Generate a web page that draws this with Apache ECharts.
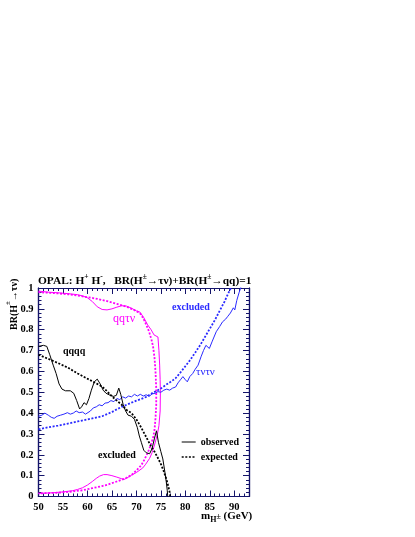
<!DOCTYPE html>
<html><head><meta charset="utf-8">
<script src="https://cdn.jsdelivr.net/npm/echarts/dist/echarts.min.js"></script>
<style>html,body{margin:0;padding:0;background:#fff}#c{width:415px;height:537px}</style>
</head><body><div id="c"></div>
<script>
// ---- data (m_H [GeV], BR(H->tau nu)) ----
const xTickLabels = ['50','55','60','65','70','75','80','85','90'];
const yTickLabels = ['0','0.1','0.2','0.3','0.4','0.5','0.6','0.7','0.8','0.9','1'];

const qqtnObserved = [[50,0.985],[52,0.98],[54,0.977],[56,0.973],[58,0.968],[59,0.962],[60,0.953],[61,0.935],[62,0.91],[63,0.897],[64,0.895],[65,0.9],[66,0.908],[67,0.915],[68,0.913],[69,0.903],[70,0.89],[70.7,0.885],[71.5,0.858],[72.3,0.823],[73,0.8],[73.6,0.775],[74,0.772],[74.4,0.765],[74.6,0.7],[74.75,0.63],[74.85,0.56],[74.9,0.5],[74.85,0.41],[74.6,0.34],[74.3,0.3],[73.7,0.247],[73.2,0.21],[72.7,0.183],[71.9,0.155],[71.3,0.137],[70,0.115],[69,0.102],[68,0.088],[67.5,0.082],[67,0.085],[66,0.093],[65,0.1],[64,0.105],[63.3,0.105],[62.5,0.098],[61.8,0.087],[61,0.072],[60,0.055],[59,0.042],[58,0.034],[57,0.028],[55,0.022],[53,0.018],[50,0.015]];
const qqtnExpected = [[50,0.98],[53,0.976],[56,0.97],[59,0.96],[62,0.948],[64,0.937],[66,0.924],[68,0.91],[69.5,0.895],[70.7,0.88],[71.4,0.855],[72,0.825],[72.6,0.79],[73.1,0.75],[73.4,0.72],[73.7,0.665],[73.9,0.6],[74.05,0.52],[74.05,0.44],[73.9,0.375],[73.7,0.32],[73.4,0.28],[72.9,0.245],[72.4,0.215],[71.7,0.18],[71,0.15],[70,0.125],[69,0.103],[68,0.09],[67,0.08],[66,0.072],[65,0.064],[64,0.056],[63,0.05],[61,0.04],[59,0.03],[57,0.024],[54,0.018],[50,0.015]];
const qqqqObserved = [[50,0.72],[51,0.725],[51.7,0.72],[52.3,0.68],[53,0.63],[53.6,0.59],[54.2,0.54],[54.8,0.515],[55.5,0.507],[56.5,0.507],[57.2,0.495],[57.8,0.46],[58.4,0.42],[58.8,0.43],[59.3,0.45],[59.8,0.44],[60.3,0.47],[60.8,0.51],[61.4,0.55],[62,0.563],[62.6,0.54],[63.2,0.51],[63.8,0.495],[64.5,0.487],[65.3,0.48],[65.9,0.485],[66.4,0.52],[66.8,0.49],[67.3,0.44],[67.8,0.41],[68.3,0.39],[69,0.385],[69.6,0.37],[70.2,0.33],[70.6,0.29],[71,0.26],[71.5,0.222],[72,0.21],[72.7,0.205],[73.2,0.23],[73.7,0.28],[74.1,0.315],[74.5,0.26],[75,0.215],[75.4,0.18],[75.8,0.12],[76.1,0.07],[76.3,0.03],[76.4,0]];
const qqqqExpected = [[50,0.68],[52,0.66],[54,0.64],[56,0.618],[58,0.59],[60,0.565],[62,0.54],[63,0.527],[64,0.505],[65,0.48],[66,0.46],[67,0.44],[68,0.415],[69,0.4],[70,0.37],[71,0.33],[72,0.285],[73,0.24],[73.7,0.215],[74.5,0.18],[75.1,0.15],[75.6,0.12],[76.1,0.085],[76.5,0.05],[76.8,0.02],[76.9,0]];
const tntnObserved = [[50,0.385],[50.7,0.39],[51.3,0.4],[52,0.39],[52.6,0.38],[53.2,0.375],[53.8,0.385],[54.5,0.39],[55.2,0.395],[55.9,0.402],[56.5,0.395],[57.1,0.4],[57.7,0.41],[58.3,0.402],[59,0.405],[59.6,0.395],[60,0.39],[60.6,0.41],[61.2,0.425],[61.8,0.43],[62.4,0.44],[63,0.435],[63.6,0.448],[64.2,0.45],[64.8,0.46],[65.4,0.455],[66,0.47],[66.6,0.465],[67.2,0.478],[67.8,0.472],[68.4,0.482],[69,0.478],[69.6,0.49],[70.2,0.482],[70.8,0.49],[71.4,0.482],[72,0.488],[72.6,0.48],[73.2,0.492],[73.8,0.495],[74.4,0.503],[75,0.5],[75.6,0.51],[76.2,0.515],[76.8,0.51],[77.4,0.52],[78,0.525],[78.5,0.545],[79,0.56],[79.5,0.575],[80,0.56],[80.4,0.55],[80.9,0.575],[81.5,0.59],[82,0.61],[82.6,0.63],[83.2,0.67],[83.7,0.7],[84.2,0.725],[84.9,0.71],[85.5,0.745],[86.3,0.79],[87,0.815],[87.6,0.838],[88.2,0.85],[88.6,0.862],[89.2,0.88],[89.5,0.875],[89.8,0.905],[90.1,0.895],[90.5,0.94],[91,0.98],[91.3,1.0],[91.5,1.02]];
const tntnExpected = [[50,0.322],[52,0.332],[54,0.34],[56,0.35],[58,0.36],[60,0.37],[62,0.38],[63,0.385],[64,0.395],[65,0.405],[66,0.418],[67,0.43],[68,0.44],[69,0.45],[70,0.46],[71,0.468],[72,0.478],[73,0.493],[74,0.505],[75,0.518],[76,0.535],[77,0.55],[78,0.567],[79,0.595],[80,0.625],[81,0.655],[82,0.69],[83,0.725],[84,0.765],[85,0.805],[86,0.845],[87,0.89],[88,0.935],[88.6,0.966],[89.3,1.0],[89.5,1.01]];

// ---- styling ----
const FONT = '"Liberation Serif", "DejaVu Serif", serif';
const FRAME = '#14146a';
const MAG = '#ff00ff', BLUE = '#2a2aff', BLK = '#000000';
const DOT = [2, 1.6];

function xAx(pos, interval, len, labels) {
  return {
    type: 'value', min: 50, max: 93, interval: interval, position: pos,
    axisLine: {show: true, onZero: false, lineStyle: {color: FRAME, width: 1.2}},
    axisTick: {show: true, inside: true, length: len, lineStyle: {color: FRAME, width: 1}},
    axisLabel: labels ? {show: true, margin: 5, showMaxLabel: false, color: '#000', fontFamily: FONT, fontWeight: 'bold', fontSize: 10.5,
      formatter: v => { const i = Math.round((v - 50) / 5); return (Math.abs(v - 50 - 5 * i) < 1e-6 && xTickLabels[i]) ? xTickLabels[i] : ''; }} : {show: false},
    splitLine: {show: false}
  };
}
function yAx(pos, interval, len, labels) {
  return {
    type: 'value', min: 0, max: 1, interval: interval, position: pos,
    axisLine: {show: true, onZero: false, lineStyle: {color: FRAME, width: 1.2}},
    axisTick: {show: true, inside: true, length: len, lineStyle: {color: FRAME, width: 1}},
    axisLabel: labels ? {show: true, margin: 5, color: '#000', fontFamily: FONT, fontWeight: 'bold', fontSize: 10.5,
      formatter: v => yTickLabels[Math.round(v * 10)] || ''} : {show: false},
    splitLine: {show: false}
  };
}
function line(name, data, color, dotted) {
  return {
    name: name, type: 'line', data: data, xAxisIndex: 0, yAxisIndex: 0,
    showSymbol: false, symbol: 'none', clip: true, silent: true, animation: false,
    lineStyle: {color: color, width: dotted ? 1.8 : 1, type: dotted ? DOT : 'solid'},
    itemStyle: {color: color}
  };
}

const chart = echarts.init(document.getElementById('c'), null, {renderer: 'canvas'});
chart.setOption({
  animation: false,
  backgroundColor: '#fff',
  grid: {left: 38.5, right: 166, top: 288, bottom: 40.5, containLabel: false},
  xAxis: [xAx('bottom', 5, 6, true), xAx('bottom', 1, 3, false), xAx('top', 5, 6, false), xAx('top', 1, 3, false)],
  yAxis: [yAx('left', 0.1, 6, true), yAx('left', 0.02, 3, false), yAx('right', 0.1, 6, false), yAx('right', 0.02, 3, false)],
  legend: {
    data: [{name: 'observed', lineStyle: {width: 1}}, {name: 'expected', lineStyle: {width: 1.4}}],
    orient: 'vertical', left: 181, top: 436, padding: 0,
    itemWidth: 14, itemHeight: 12, itemGap: 3, selectedMode: false,
    itemStyle: {opacity: 0, borderWidth: 0},
    textStyle: {fontFamily: FONT, fontWeight: 'bold', fontSize: 10, color: '#000', lineHeight: 12}
  },
  series: [
    line('qqτν obs', qqtnObserved, MAG, false),
    line('qqτν exp', qqtnExpected, MAG, true),
    line('τντν obs', tntnObserved, BLUE, false),
    line('τντν exp', tntnExpected, BLUE, true),
    line('observed', qqqqObserved, BLK, false),
    line('expected', qqqqExpected, BLK, true)
  ],
  graphic: [
    {type: 'text', left: 38, top: 273, silent: true, style: {
      text: '{b|OPAL: H}{s|+}{b| H}{s|-}{b|,   BR(H}{s|±}{b|→τν)+BR(H}{s|±}{b|→qq)=1}',
      rich: {
        b: {fontFamily: FONT, fontWeight: 'bold', fontSize: 11.4, fill: '#000', lineHeight: 14, verticalAlign: 'bottom'},
        s: {fontFamily: FONT, fontWeight: 'bold', fontSize: 7.5, fill: '#000', lineHeight: 14, verticalAlign: 'top'}
      }}},
    {type: 'text', x: 5, y: 330, rotation: Math.PI / 2, silent: true, style: {
      text: '{b|BR(H}{s|±}{b|→τν)}', align: 'left', verticalAlign: 'top',
      rich: {
        b: {fontFamily: FONT, fontWeight: 'bold', fontSize: 10, fill: '#000', lineHeight: 14, verticalAlign: 'bottom'},
        s: {fontFamily: FONT, fontWeight: 'bold', fontSize: 7, fill: '#000', lineHeight: 14, verticalAlign: 'top'}
      }}},
    {type: 'text', left: 201, top: 511, silent: true, style: {
      text: '{b|m}{sub|H}{s|±}{b| (GeV)}',
      rich: {
        b: {fontFamily: FONT, fontWeight: 'bold', fontSize: 11, fill: '#000', lineHeight: 15, verticalAlign: 'middle'},
        sub: {fontFamily: FONT, fontWeight: 'bold', fontSize: 8, fill: '#000', lineHeight: 15, verticalAlign: 'bottom'},
        s: {fontFamily: FONT, fontWeight: 'bold', fontSize: 8, fill: '#000', lineHeight: 15, verticalAlign: 'middle'}
      }}},
    {type: 'text', left: 113, top: 313, silent: true, style: {text: 'qqτν', fill: MAG, fontFamily: FONT, fontSize: 12}},
    {type: 'text', left: 172, top: 302, silent: true, style: {text: 'excluded', fill: BLUE, fontFamily: FONT, fontWeight: 'bold', fontSize: 10}},
    {type: 'text', left: 63, top: 346, silent: true, style: {text: 'qqqq', fill: BLK, fontFamily: FONT, fontWeight: 'bold', fontSize: 10}},
    {type: 'text', left: 196, top: 367, silent: true, style: {text: 'τντν', fill: BLUE, fontFamily: FONT, fontSize: 11}},
    {type: 'text', left: 98, top: 450, silent: true, style: {text: 'excluded', fill: BLK, fontFamily: FONT, fontWeight: 'bold', fontSize: 10}}
  ]
});
</script></body></html>
